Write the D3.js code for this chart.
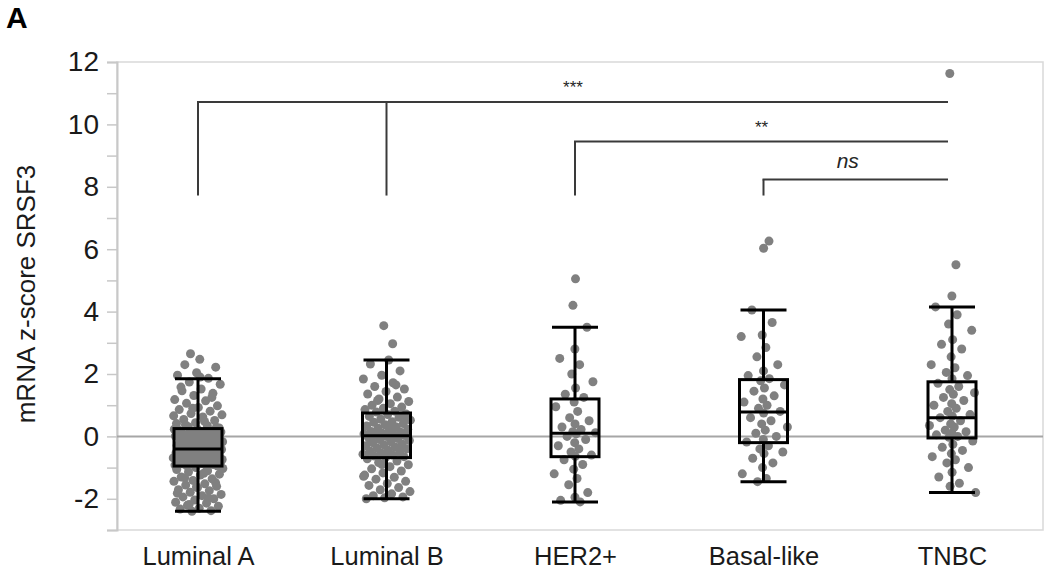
<!DOCTYPE html>
<html><head><meta charset="utf-8">
<script src="https://cdn.jsdelivr.net/npm/d3@7"></script>
<style>
html,body{margin:0;padding:0;background:#fff;}
svg{display:block;font-family:"Liberation Sans",Arial,sans-serif;}
</style></head>
<body><svg id="chart" width="1045" height="573"></svg>
<script>
const categories = ["Luminal A", "Luminal B", "HER2+", "Basal-like", "TNBC"];
const whiskerHigh = [1.85, 2.45, 3.5, 4.05, 4.15];
const q3Values    = [0.25, 0.75, 1.2, 1.82, 1.75];
const medians     = [-0.4, 0.02, 0.1, 0.78, 0.6];
const q1Values    = [-0.95, -0.68, -0.65, -0.2, -0.05];
const whiskerLow  = [-2.4, -2.0, -2.1, -1.45, -1.8];

const lumA = [2.65, 2.47, 2.3, 2.22, 2.04, 1.96, 1.86, 1.74, 1.67, 1.52, 1.46, 1.38, 1.31, 1.18, 1.14, 1.06, 0.98, 0.93, 0.86, 0.81, 0.73, 0.69, 0.62, 0.54, 0.51, 0.44, 0.41, 0.34, 0.31, 0.27,
  1.9, 1.58, 1.25, 0.9, 0.66, 0.48, 0.37, 0.29,
  0.24, 0.21, 0.2, 0.17, 0.14, 0.13, 0.09, 0.07, 0.06, 0.01, -0.01, -0.03, -0.06, -0.09, -0.1, -0.13, -0.16, -0.17, -0.21, -0.22, -0.25, -0.26, -0.29, -0.31, -0.32, -0.35, -0.36, -0.37, -0.38, -0.39,
  0.23, 0.11, -0.04, -0.12, -0.19, -0.27, -0.33, -0.36,
  -0.42, -0.43, -0.47, -0.48, -0.5, -0.53, -0.54, -0.57, -0.58, -0.61, -0.62, -0.65, -0.66, -0.69, -0.71, -0.72, -0.75, -0.77, -0.78, -0.81, -0.83, -0.84, -0.87, -0.88, -0.9, -0.91, -0.92, -0.93, -0.94, -0.95,
  -0.45, -0.52, -0.6, -0.68, -0.74, -0.8, -0.86, -0.89,
  -1.0, -1.06, -1.1, -1.14, -1.21, -1.24, -1.3, -1.36, -1.41, -1.44, -1.52, -1.56, -1.6, -1.64, -1.71, -1.74, -1.79, -1.86, -1.9, -1.94, -2.0, -2.04, -2.11, -2.14, -2.21, -2.24, -2.3, -2.33, -2.38, -2.4,
  -1.03, -1.18, -1.33, -1.48, -1.62, -1.82, -1.98, -2.18];
const lumB = [3.55, 2.97, 2.45, 2.32, 2.1, 1.96, 1.84, 1.72, 1.6, 1.52, 1.44, 1.36, 1.26, 1.2, 1.12, 1.05, 1.0, 0.94, 0.9, 0.86, 0.81, 0.78,
  0.72, 0.7, 0.64, 0.61, 0.55, 0.52, 0.47, 0.45, 0.41, 0.37, 0.33, 0.3, 0.26, 0.23, 0.2, 0.16, 0.13, 0.1, 0.08, 0.06, 0.04, 0.03,
  0.0, -0.03, -0.07, -0.1, -0.13, -0.17, -0.2, -0.24, -0.27, -0.3, -0.34, -0.37, -0.4, -0.44, -0.47, -0.5, -0.53, -0.57, -0.6, -0.63, -0.65, -0.67,
  -0.72, -0.79, -0.84, -0.91, -0.97, -1.04, -1.11, -1.17, -1.24, -1.31, -1.37, -1.44, -1.51, -1.57, -1.64, -1.71, -1.77, -1.84, -1.9, -1.94, -1.97, -2.0,
  1.65, 1.15, 0.58, 0.35, -0.15, -0.38, -0.9, -1.28];
const her2 = [5.05, 4.2, 3.5, 2.8, 2.5, 2.3, 2.0, 1.75, 1.55, 1.35, 1.25,
  1.1, 0.95, 0.8, 0.6, 0.5, 0.4, 0.3, 0.22, 0.15, 0.12,
  0.08, 0.0, -0.1, -0.2, -0.3, -0.4, -0.5, -0.6, -0.64,
  -0.75, -0.9, -1.05, -1.2, -1.35, -1.55, -1.8, -1.95, -2.05, -2.1];
const basal = [6.26, 6.03, 4.05, 3.65, 3.25, 3.2, 2.85, 2.55, 2.3, 2.1, 1.95, 1.85,
  1.78, 1.65, 1.55, 1.45, 1.3, 1.2, 1.1, 1.0, 0.9, 0.8,
  0.75, 0.6, 0.5, 0.4, 0.3, 0.2, 0.1, 0.0, -0.1, -0.18,
  -0.3, -0.4, -0.5, -0.55, -0.7, -0.85, -1.0, -1.2, -1.35, -1.45];
const tnbc = [11.63, 5.5, 4.5, 4.15, 3.9, 3.6, 3.4, 3.1, 2.95, 2.8, 2.55, 2.3, 2.2, 2.05, 1.95, 1.85,
  1.7, 1.6, 1.5, 1.4, 1.35, 1.25, 1.15, 1.05, 1.0, 0.9, 0.8, 0.7, 0.65,
  0.6, 0.5, 0.4, 0.35, 0.3, 0.2, 0.15, 0.1, 0.05, 0.0, -0.03,
  -0.15, -0.25, -0.35, -0.45, -0.55, -0.65, -0.75, -0.85, -1.0, -1.15, -1.3, -1.5, -1.6, -1.8];
const groupPoints = [lumA, lumB, her2, basal, tnbc];

const yTickValues = [-2, 0, 2, 4, 6, 8, 10, 12];
const yMinorTicks = [-3, -1, 1, 3, 5, 7, 9, 11];

const sigLabels = ["***", "**", "ns"];
const sigLevels = [10.72, 9.45, 8.23];
const sigStartGroups = [["Luminal A", "Luminal B"], ["HER2+"], ["Basal-like"]];
const sigEndGroup = "TNBC";
const sigDropLevel = 7.72;

const svg = d3.select("#chart");
const plotLeft = 117, plotRight = 1043, plotTop = 62, plotBottom = 530;

const x = d3.scalePoint().domain(categories).range([198, 952]);
const y = d3.scaleLinear().domain([-3, 12]).range([plotBottom, plotTop]);

// frame
svg.append("rect").attr("x", plotLeft).attr("y", plotTop)
  .attr("width", plotRight - plotLeft).attr("height", plotBottom - plotTop)
  .attr("fill", "none").attr("stroke", "#d9d9d9").attr("stroke-width", 1.5);

// y axis
const yAxis = d3.axisLeft(y).tickValues(yTickValues).tickSize(10).tickPadding(8).tickFormat(d => String(d));
const gy = svg.append("g").attr("transform", `translate(${plotLeft},0)`).call(yAxis);
gy.select(".domain").attr("stroke", "#c8c8c8").attr("stroke-width", 2);
gy.selectAll(".tick line").attr("stroke", "#c8c8c8").attr("stroke-width", 1.5);
gy.selectAll(".tick text").attr("font-size", 28).attr("fill", "#1a1a1a")
  .attr("font-family", "Liberation Sans, Arial, sans-serif");
const gyMinor = svg.append("g").attr("transform", `translate(${plotLeft},0)`)
  .call(d3.axisLeft(y).tickValues(yMinorTicks).tickSize(10).tickFormat(""));
gyMinor.select(".domain").remove();
gyMinor.selectAll(".tick line").attr("stroke", "#c8c8c8").attr("stroke-width", 1.5);

// zero line
svg.append("line").attr("x1", plotLeft).attr("x2", plotRight)
  .attr("y1", y(0)).attr("y2", y(0)).attr("stroke", "#a6a6a6").attr("stroke-width", 2);

// x labels
const xAxis = d3.axisBottom(x).tickSize(0).tickPadding(0);
const gx = svg.append("g").attr("transform", `translate(0,${plotBottom})`).call(xAxis);
gx.select(".domain").remove();
gx.selectAll(".tick text").attr("font-size", 25.5).attr("fill", "#1a1a1a")
  .attr("dy", "1.38em").attr("font-family", "Liberation Sans, Arial, sans-serif");

// y title
svg.append("text").attr("transform", `translate(35,${(plotTop + plotBottom) / 2 - 2}) rotate(-90)`)
  .attr("text-anchor", "middle").attr("font-size", 26).attr("fill", "#1a1a1a")
  .text("mRNA z-score SRSF3");

// panel label
svg.append("text").attr("x", 6).attr("y", 28).attr("font-size", 30).attr("font-weight", "bold")
  .attr("fill", "#000").text("A");

// points (deterministic jitter, more concentrated toward centre for small groups)
const jitterWidth = [25, 24, 22, 24, 24];
const jitterPower = [1, 1, 1.8, 1.8, 1.8];
categories.forEach((cat, gi) => {
  const pts = groupPoints[gi];
  svg.append("g").selectAll("circle").data(pts).enter().append("circle")
    .attr("cx", (d, i) => {
      const t = (((i * 0.6180339887 + gi * 0.31) % 1) - 0.5) * 2;
      const s = Math.sign(t) * Math.pow(Math.abs(t), jitterPower[gi]);
      return x(cat) + s * jitterWidth[gi] * (i < 2 ? 0.3 : 1);
    })
    .attr("cy", d => y(d))
    .attr("r", 4.5)
    .attr("fill", "#808080");
});

// boxes
const boxW = 48, capW = 46;
const boxes = svg.append("g");
categories.forEach((cat, gi) => {
  const cx = x(cat);
  const g = boxes.append("g").attr("stroke", "#000").attr("stroke-width", 3).attr("fill", "none");
  g.append("line").attr("x1", cx).attr("x2", cx).attr("y1", y(whiskerHigh[gi])).attr("y2", y(q3Values[gi]));
  g.append("line").attr("x1", cx).attr("x2", cx).attr("y1", y(q1Values[gi])).attr("y2", y(whiskerLow[gi]));
  g.append("line").attr("x1", cx - capW / 2).attr("x2", cx + capW / 2).attr("y1", y(whiskerHigh[gi])).attr("y2", y(whiskerHigh[gi]));
  g.append("line").attr("x1", cx - capW / 2).attr("x2", cx + capW / 2).attr("y1", y(whiskerLow[gi])).attr("y2", y(whiskerLow[gi]));
  g.append("rect").attr("x", cx - boxW / 2).attr("y", y(q3Values[gi]))
    .attr("width", boxW).attr("height", y(q1Values[gi]) - y(q3Values[gi]));
  g.append("line").attr("x1", cx - boxW / 2).attr("x2", cx + boxW / 2).attr("y1", y(medians[gi])).attr("y2", y(medians[gi]));
});

// significance brackets
const sig = svg.append("g").attr("stroke", "#3a3a3a").attr("stroke-width", 2).attr("fill", "none");
sigLevels.forEach((lvl, si) => {
  const starts = sigStartGroups[si];
  const xs = x(starts[0]);
  const xe = x(sigEndGroup) - 4;
  sig.append("line").attr("x1", xs - 1).attr("x2", xe).attr("y1", y(lvl)).attr("y2", y(lvl));
  starts.forEach(s => {
    sig.append("line").attr("x1", x(s)).attr("x2", x(s)).attr("y1", y(lvl)).attr("y2", y(sigDropLevel));
  });
  const isNs = sigLabels[si] === "ns";
  svg.append("text").attr("x", (xs + xe) / 2 - (isNs ? 8 : 0)).attr("y", y(lvl) - (isNs ? 12 : 9))
    .attr("text-anchor", "middle").attr("font-size", isNs ? 21 : 17)
    .attr("font-style", isNs ? "italic" : "normal").attr("fill", "#262626")
    .text(sigLabels[si]);
});
</script></body></html>
